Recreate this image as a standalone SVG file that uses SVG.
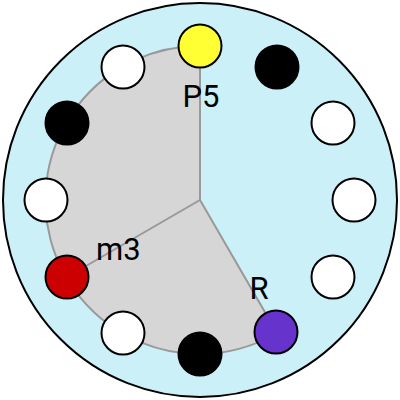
<svg xmlns="http://www.w3.org/2000/svg" width="400" height="400" viewBox="0 0 400 400">
<style>
.note{stroke:#000;stroke-width:2}
.w{fill:#fff}.b{fill:#000}
.lbl{font-family:Roboto,"Liberation Sans",Arial,sans-serif;font-size:31px;fill:#000}
.edge{stroke:#999;stroke-width:2;fill:none}
</style>
<circle cx="200" cy="200" r="197" fill="#ccf0f8" stroke="#000" stroke-width="2"/>
<path d="M200,200 L200,46 A154,154 0 1 0 277,333 Z" fill="#d6d6d6" stroke="#999" stroke-width="2"/>
<g id="connectors">
<line class="edge" x1="200" y1="200" x2="67" y2="277"/>
</g>
<g id="n0"><circle class="note" cx="200" cy="46" r="21.5" fill="#ffff33"/><text class="lbl" x="201" y="107" text-anchor="middle">P5</text></g>
<g id="n1"><circle class="note b" cx="277" cy="67" r="21.5"/></g>
<g id="n2"><circle class="note w" cx="333" cy="123" r="21.5"/></g>
<g id="n3"><circle class="note w" cx="354" cy="200" r="21.5"/></g>
<g id="n4"><circle class="note w" cx="333" cy="277" r="21.5"/></g>
<g id="n5"><circle class="note" cx="276" cy="332" r="21.5" fill="#6633cc"/><text class="lbl" x="259" y="299" text-anchor="middle">R</text></g>
<g id="n6"><circle class="note b" cx="200" cy="354" r="21.5"/></g>
<g id="n7"><circle class="note w" cx="123" cy="333" r="21.5"/></g>
<g id="n8"><circle class="note" cx="67" cy="277" r="21.5" fill="#cc0000"/><text class="lbl" x="96" y="260">m3</text></g>
<g id="n9"><circle class="note w" cx="46" cy="200" r="21.5"/></g>
<g id="n10"><circle class="note b" cx="67" cy="123" r="21.5"/></g>
<g id="n11"><circle class="note w" cx="123" cy="67" r="21.5"/></g>
</svg>
